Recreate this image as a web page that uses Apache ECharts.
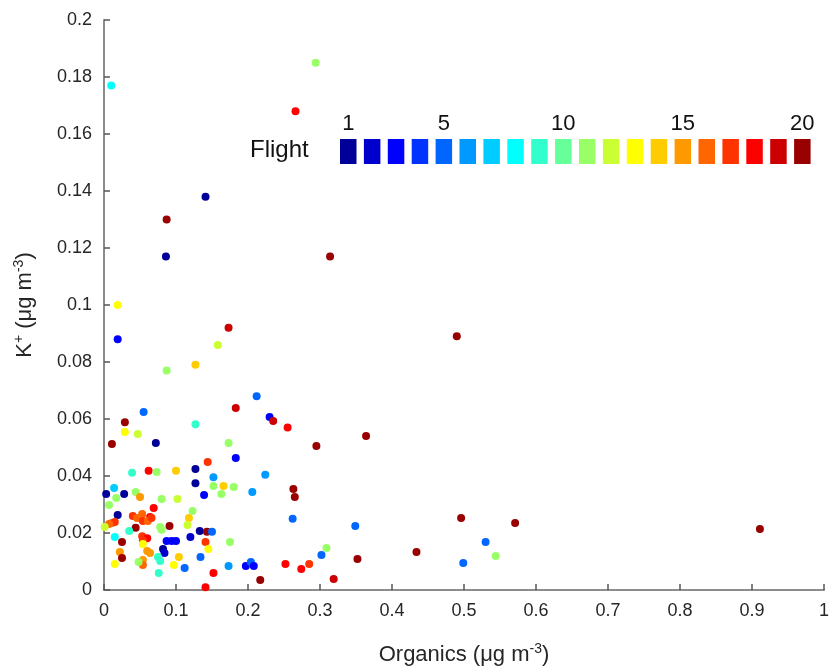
<!DOCTYPE html>
<html>
<head>
<meta charset="utf-8">
<script src="https://cdn.jsdelivr.net/npm/echarts@6/dist/echarts.min.js"></script>
<style>
  html, body { margin: 0; padding: 0; background: #fff; }
  #chart { width: 832px; height: 671px; }
</style>
</head>
<body>
<div id="chart"></div>
<script>
// flight colour scale (1 .. 20)
var flightColors = [
  '#000099', '#0000CC', '#0000FF', '#0033FF', '#0066FF',
  '#0099FF', '#00CCFF', '#00FFFF', '#33FFCC', '#66FF99',
  '#99FF66', '#CCFF33', '#FFFF00', '#FFCC00', '#FF9900',
  '#FF6600', '#FF3300', '#FF0000', '#CC0000', '#990000'
]
var legendLabels = [1, 5, 10, 15, 20]
var xTicks = [0, 0.1, 0.2, 0.3, 0.4, 0.5, 0.6, 0.7, 0.8, 0.9, 1]
var yTicks = [0, 0.02, 0.04, 0.06, 0.08, 0.1, 0.12, 0.14, 0.16, 0.18, 0.2]

// [organics, K+, flight]
var points = [
  [0.294, 0.185, 11], [0.266, 0.168, 18], [0.010, 0.177, 8], [0.141, 0.138, 1],
  [0.087, 0.130, 20], [0.086, 0.117, 1], [0.314, 0.117, 20], [0.019, 0.100, 13],
  [0.019, 0.088, 3], [0.173, 0.092, 19], [0.158, 0.086, 12], [0.127, 0.079, 14],
  [0.087, 0.077, 11], [0.490, 0.089, 20], [0.364, 0.054, 20], [0.295, 0.0505, 20],
  [0.255, 0.057, 18], [0.263, 0.0354, 20], [0.265, 0.0326, 20], [0.262, 0.025, 5],
  [0.349, 0.0225, 5], [0.309, 0.0147, 11], [0.302, 0.0123, 5], [0.285, 0.0091, 17],
  [0.274, 0.0074, 18], [0.319, 0.0039, 19], [0.352, 0.0109, 20], [0.434, 0.0133, 20],
  [0.496, 0.0253, 20], [0.499, 0.0095, 5], [0.530, 0.0168, 5], [0.544, 0.0119, 11],
  [0.571, 0.0235, 20], [0.911, 0.0214, 20], [0.212, 0.068, 5], [0.055, 0.0625, 5],
  [0.183, 0.0639, 19], [0.230, 0.0607, 3], [0.235, 0.0593, 19], [0.029, 0.0589, 20],
  [0.029, 0.0554, 13], [0.047, 0.0547, 12], [0.127, 0.0582, 9], [0.011, 0.0512, 20],
  [0.072, 0.0516, 1], [0.173, 0.0516, 11], [0.183, 0.0463, 3], [0.144, 0.0449, 17],
  [0.062, 0.0418, 18], [0.073, 0.0414, 11], [0.039, 0.0411, 9], [0.100, 0.0418, 14],
  [0.127, 0.0425, 1], [0.127, 0.0375, 1], [0.152, 0.0396, 6], [0.224, 0.0404, 6],
  [0.152, 0.0365, 11], [0.166, 0.0365, 14], [0.180, 0.0361, 11], [0.163, 0.0337, 11],
  [0.139, 0.0333, 3], [0.206, 0.0344, 6], [0.003, 0.0337, 1], [0.028, 0.0337, 1],
  [0.014, 0.0358, 7], [0.044, 0.0344, 11], [0.050, 0.0326, 15], [0.017, 0.0323, 11],
  [0.007, 0.0298, 11], [0.080, 0.0319, 11], [0.102, 0.0319, 12], [0.069, 0.0288, 18],
  [0.123, 0.0277, 11], [0.019, 0.0263, 1], [0.118, 0.0253, 14], [0.116, 0.0228, 12],
  [0.040, 0.026, 17], [0.053, 0.0267, 16], [0.064, 0.0256, 18], [0.046, 0.0253, 16],
  [0.054, 0.0242, 17], [0.061, 0.0242, 16], [0.066, 0.0253, 17], [0.011, 0.0235, 16],
  [0.015, 0.0239, 17], [0.007, 0.0232, 16], [0.001, 0.0221, 12], [0.044, 0.0218, 20],
  [0.078, 0.0221, 11], [0.080, 0.0211, 11], [0.091, 0.0225, 20], [0.133, 0.0207, 1],
  [0.015, 0.0186, 8], [0.035, 0.0207, 9], [0.053, 0.0189, 17], [0.060, 0.0182, 18],
  [0.054, 0.0175, 17], [0.025, 0.0168, 20], [0.054, 0.0161, 13], [0.087, 0.0172, 3],
  [0.094, 0.0172, 3], [0.100, 0.0172, 3], [0.120, 0.0186, 2], [0.143, 0.0204, 20],
  [0.150, 0.0204, 5], [0.141, 0.0168, 17], [0.145, 0.0144, 13], [0.175, 0.0168, 11],
  [0.082, 0.0144, 1], [0.084, 0.013, 2], [0.022, 0.0133, 15], [0.060, 0.0137, 15],
  [0.064, 0.013, 15], [0.025, 0.0112, 20], [0.075, 0.0116, 9], [0.078, 0.0102, 9],
  [0.104, 0.0116, 14], [0.054, 0.0105, 15], [0.054, 0.0088, 16], [0.015, 0.0091, 13],
  [0.048, 0.0098, 11], [0.097, 0.0088, 13], [0.112, 0.0077, 5], [0.134, 0.0116, 5],
  [0.076, 0.006, 9], [0.152, 0.006, 18], [0.141, 0.001, 18], [0.173, 0.0084, 6],
  [0.197, 0.0084, 3], [0.204, 0.0098, 5], [0.208, 0.0084, 3], [0.217, 0.0035, 20],
  [0.252, 0.0091, 18]
]

var dom = document.getElementById('chart')
var chart = echarts.init(dom)

var axisColor = '#8c8c8c'
var labelColor = '#262626'
var font = 'Liberation Sans, Arial, sans-serif'

// legend: "Flight" + 20 colour boxes with a few numbers above
var boxX0 = 340, boxPitch = 23.9, boxW = 16.5, boxTop = 139, boxH = 25
var legendItems = [{
  type: 'text',
  left: 250,
  top: 138,
  style: { text: 'Flight', fontSize: 24, fontFamily: font, fill: '#111' }
}]
flightColors.forEach(function (c, i) {
  legendItems.push({
    type: 'rect',
    shape: { x: boxX0 + i * boxPitch, y: boxTop, width: boxW, height: boxH },
    style: { fill: c }
  })
})
legendLabels.forEach(function (n) {
  legendItems.push({
    type: 'text',
    x: boxX0 + (n - 1) * boxPitch + boxW / 2,
    y: 135,
    style: {
      text: String(n), fontSize: 22, fontFamily: font, fill: '#111',
      align: 'center', verticalAlign: 'bottom'
    }
  })
})

var nameRich = {
  a: { fontSize: 22, fontFamily: font, color: labelColor, lineHeight: 26 },
  s: { fontSize: 14, fontFamily: font, color: labelColor, verticalAlign: 'top', lineHeight: 26, padding: [0, 0, 10, 0] }
}

chart.setOption({
  animation: false,
  backgroundColor: '#fff',
  grid: { left: 104, right: 6, top: 20, bottom: 81 },
  xAxis: {
    type: 'value',
    min: xTicks[0],
    max: xTicks[xTicks.length - 1],
    interval: 0.1,
    name: '{a|Organics (μg m}{s|-3}{a|)}',
    nameLocation: 'middle',
    nameGap: 52,
    nameTextStyle: { rich: nameRich },
    axisLine: { show: true, lineStyle: { color: axisColor, width: 2 } },
    axisTick: { show: true, inside: true, length: 6, lineStyle: { color: '#555', width: 1.5 } },
    axisLabel: { fontSize: 18, fontFamily: font, color: labelColor, margin: 12 },
    splitLine: { show: false }
  },
  yAxis: {
    type: 'value',
    min: yTicks[0],
    max: yTicks[yTicks.length - 1],
    interval: 0.02,
    name: '{a|K}{s|+}{a| (μg m}{s|-3}{a|)}',
    nameLocation: 'middle',
    nameRotate: 90,
    nameGap: 66,
    nameTextStyle: { rich: nameRich },
    axisLine: { show: true, lineStyle: { color: axisColor, width: 2 } },
    axisTick: { show: true, inside: true, length: 6, lineStyle: { color: '#555', width: 1.5 } },
    axisLabel: { fontSize: 18, fontFamily: font, color: labelColor, margin: 12 },
    splitLine: { show: false }
  },
  graphic: legendItems,
  series: [{
    type: 'scatter',
    symbolSize: 8,
    data: points,
    itemStyle: {
      opacity: 1,
      color: function (p) { return flightColors[p.data[2] - 1] }
    }
  }]
})
</script>
</body>
</html>
